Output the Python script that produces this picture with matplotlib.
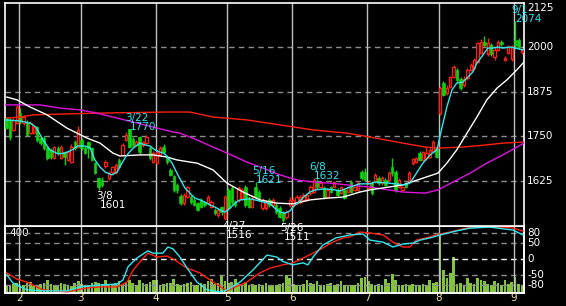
import numpy as np
import matplotlib
matplotlib.use("Agg")
import matplotlib.pyplot as plt
from matplotlib.transforms import blended_transform_factory, offset_copy

# daily candles (open, high, low, close), one row per trading day
ohlc = [
    (1801, 1805, 1770, 1773), (1796, 1800, 1740, 1748), (1768, 1800, 1765, 1796), (1787, 1838, 1785, 1832),
    (1815, 1830, 1785, 1790), (1787, 1810, 1782, 1804), (1790, 1795, 1750, 1754), (1760, 1792, 1757, 1787),
    (1760, 1782, 1757, 1776), (1776, 1780, 1735, 1740), (1745, 1750, 1725, 1731), (1745, 1750, 1712, 1717),
    (1717, 1722, 1685, 1689), (1712, 1717, 1687, 1692), (1689, 1724, 1686, 1720), (1717, 1722, 1697, 1703),
    (1689, 1725, 1686, 1720), (1706, 1710, 1670, 1692), (1684, 1710, 1680, 1706), (1678, 1728, 1675, 1720),
    (1734, 1740, 1712, 1717), (1720, 1780, 1717, 1768), (1740, 1745, 1712, 1717), (1717, 1722, 1700, 1703),
    (1734, 1738, 1689, 1717), (1717, 1720, 1680, 1684), (1675, 1678, 1644, 1647), (1633, 1636, 1601, 1608),
    (1628, 1635, 1608, 1614), (1667, 1684, 1662, 1678), (1633, 1652, 1628, 1647), (1650, 1668, 1645, 1664),
    (1650, 1675, 1645, 1670), (1684, 1690, 1660, 1664), (1698, 1730, 1695, 1726), (1740, 1762, 1736, 1754),
    (1770, 1770, 1716, 1720), (1742, 1748, 1720, 1726), (1726, 1740, 1722, 1734), (1748, 1752, 1700, 1706),
    (1726, 1738, 1720, 1734), (1731, 1755, 1728, 1748), (1717, 1722, 1685, 1689), (1678, 1708, 1675, 1703),
    (1675, 1712, 1672, 1706), (1698, 1722, 1695, 1717), (1720, 1728, 1700, 1706), (1692, 1698, 1672, 1678),
    (1656, 1660, 1638, 1642), (1639, 1642, 1595, 1600), (1614, 1618, 1592, 1600), (1583, 1588, 1558, 1563),
    (1563, 1590, 1558, 1586), (1580, 1612, 1576, 1608), (1580, 1585, 1560, 1566), (1572, 1576, 1555, 1558),
    (1563, 1567, 1540, 1544), (1572, 1578, 1548, 1552), (1566, 1570, 1552, 1558), (1563, 1586, 1558, 1580),
    (1552, 1572, 1548, 1566), (1544, 1550, 1530, 1535), (1530, 1548, 1525, 1544), (1552, 1556, 1530, 1538),
    (1522, 1585, 1516, 1580), (1600, 1605, 1545, 1550), (1605, 1612, 1560, 1566), (1566, 1572, 1552, 1558),
    (1572, 1610, 1566, 1605), (1578, 1605, 1572, 1600), (1608, 1614, 1552, 1558), (1578, 1583, 1548, 1552),
    (1552, 1586, 1548, 1578), (1608, 1621, 1575, 1580), (1594, 1600, 1570, 1578), (1550, 1578, 1545, 1572),
    (1550, 1572, 1545, 1566), (1572, 1578, 1552, 1558), (1558, 1578, 1552, 1572), (1558, 1563, 1533, 1538),
    (1550, 1555, 1520, 1524), (1535, 1540, 1511, 1516), (1524, 1545, 1518, 1538), (1558, 1580, 1552, 1572),
    (1558, 1578, 1552, 1572), (1563, 1586, 1558, 1580), (1566, 1585, 1560, 1580), (1572, 1592, 1568, 1586),
    (1574, 1590, 1570, 1586), (1591, 1614, 1586, 1608), (1594, 1632, 1590, 1628), (1625, 1630, 1603, 1608),
    (1608, 1624, 1604, 1619), (1605, 1610, 1575, 1580), (1580, 1605, 1576, 1600), (1608, 1612, 1590, 1594),
    (1608, 1626, 1604, 1622), (1600, 1604, 1582, 1586), (1591, 1612, 1588, 1608), (1600, 1604, 1574, 1578),
    (1594, 1612, 1590, 1608), (1622, 1628, 1590, 1594), (1600, 1612, 1596, 1608), (1600, 1624, 1596, 1619),
    (1650, 1656, 1628, 1633), (1650, 1660, 1624, 1628), (1605, 1624, 1600, 1619), (1619, 1624, 1586, 1591),
    (1622, 1646, 1618, 1642), (1633, 1638, 1615, 1619), (1619, 1638, 1615, 1633), (1628, 1632, 1610, 1614),
    (1628, 1652, 1624, 1647), (1664, 1690, 1640, 1647), (1650, 1655, 1595, 1600), (1608, 1632, 1604, 1628),
    (1600, 1612, 1596, 1608), (1619, 1623, 1604, 1608), (1628, 1652, 1622, 1647), (1675, 1690, 1670, 1686),
    (1678, 1693, 1674, 1689), (1703, 1708, 1680, 1684), (1684, 1710, 1680, 1706), (1689, 1720, 1685, 1703),
    (1692, 1716, 1688, 1712), (1710, 1740, 1706, 1734), (1717, 1722, 1688, 1692), (1815, 1890, 1810, 1885),
    (1900, 1905, 1862, 1866), (1872, 1895, 1865, 1886), (1888, 1920, 1885, 1916), (1916, 1950, 1912, 1944),
    (1936, 1940, 1903, 1908), (1910, 1915, 1880, 1885), (1894, 1918, 1888, 1910), (1913, 1942, 1908, 1936),
    (1936, 1955, 1932, 1950), (1941, 1970, 1936, 1964), (1958, 2015, 1955, 2011), (1983, 2022, 1980, 2014),
    (2014, 2030, 2000, 2005), (1980, 2025, 1975, 2011), (2005, 2010, 1975, 1980), (1972, 2000, 1965, 1992),
    (1992, 2020, 1988, 2014), (2014, 2020, 2003, 2008), (1964, 1975, 1960, 1970), (1983, 2005, 1980, 2000),
    (1966, 2005, 1962, 2000), (2019, 2074, 2000, 2005), (2019, 2025, 1995, 2000), (1986, 1998, 1980, 1992),
]

volume = [
    48, 42, 55, 62, 50, 45, 58, 66, 42, 50,
    55, 60, 78, 52, 48, 45, 60, 55, 50, 44,
    58, 72, 55, 48, 50, 62, 66, 58, 52, 75,
    48, 55, 60, 72, 55, 66, 78, 62, 50, 75,
    58, 55, 66, 80, 75, 48, 52, 60, 58, 84,
    52, 48, 55, 60, 66, 50, 45, 60, 55, 72,
    84, 55, 62, 108, 72, 58, 66, 84, 55, 50,
    60, 48, 55, 45, 52, 50, 60, 42, 48, 50,
    55, 62, 108, 90, 55, 45, 50, 52, 78, 60,
    55, 72, 48, 45, 52, 60, 50, 55, 72, 45,
    42, 50, 45, 60, 90, 96, 72, 55, 48, 52,
    45, 84, 60, 114, 78, 50, 45, 52, 48, 55,
    50, 45, 52, 48, 75, 60, 66, 360, 138, 90,
    120, 216, 55, 60, 50, 90, 62, 52, 90, 78,
    72, 55, 50, 72, 60, 48, 78, 55, 66, 96,
    55, 45,
]

# moving averages (day index, price)
ma_short_x = [-0.4, 4, 6.9, 8.6, 10.7, 12.7, 15.1, 17.1, 19.2, 20.9, 23, 24.5, 25.9, 27.4, 28.9, 30.9, 32.4,
              33.8, 35.3, 37.1, 39.1, 40.6, 42, 43.5, 45, 46.4, 48.5, 50.2, 52.3, 55.2, 56.7, 58.1, 59.6, 61.1,
              62.5, 64, 65.5, 66.9, 68.4, 71.3, 74.2, 77.2, 78.6, 80.1, 81.6, 83, 83.9, 85.9, 87.4, 88.9, 90.4,
              93.3, 96.2, 97.7, 100.6, 103.5, 106.5, 107.9, 110.9, 113.8, 116.7, 118.2, 120.3, 122, 124.1,
              126.1, 127.6, 129, 130.5, 131.9, 133.7, 135.8, 136.6, 137.8, 139.6, 141, 142.5, 143.9, 145.4,
              147.5, 148.9, 151.3]
ma_short_v = [1796, 1793, 1787, 1776, 1740, 1712, 1701, 1703, 1712, 1723, 1723, 1717, 1684, 1664, 1650, 1642,
              1650, 1675, 1698, 1717, 1731, 1726, 1723, 1712, 1706, 1701, 1675, 1642, 1605, 1577, 1572, 1566,
              1558, 1552, 1544, 1538, 1549, 1563, 1572, 1575, 1569, 1561, 1549, 1538, 1535, 1541, 1552, 1569,
              1583, 1594, 1600, 1603, 1600, 1597, 1608, 1617, 1617, 1622, 1620, 1617, 1614, 1619, 1650, 1675,
              1698, 1712, 1776, 1832, 1880, 1899, 1902, 1922, 1930, 1955, 1978, 1997, 1997, 2000, 1997, 2000,
              1997, 1992]

ma_mid_x = [0.1, 3.1, 6.9, 11.9, 17.7, 23.6, 27.4, 31.2, 33.2, 39.1, 42.9, 47, 49.9, 53.7, 55.8, 60.5, 64.6,
            69.3, 74.3, 79.2, 83.9, 88.9, 93.9, 98.6, 103.5, 106.5, 116.1, 122, 126.4, 129, 131.9, 134.9,
            137.8, 140.7, 143.7, 146.6, 149.5, 151.6]
ma_mid_v = [1860, 1852, 1832, 1810, 1773, 1745, 1731, 1703, 1695, 1698, 1698, 1692, 1684, 1678, 1675, 1656,
            1619, 1594, 1572, 1563, 1561, 1572, 1577, 1580, 1594, 1600, 1614, 1633, 1647, 1675, 1712, 1759,
            1804, 1852, 1885, 1908, 1936, 1958]

ma_long_x = [-0.4, 9.8, 15.7, 21.5, 26.5, 32.4, 37.1, 42.9, 48.8, 50.8, 55.8, 60.5, 64.6, 70.4, 75.1, 80.1,
             85.1, 89.8, 94.8, 99.7, 106.5, 116.1, 122.6, 126.4, 130.8, 135.8, 140.7, 145.4, 151.6]
ma_long_v = [1838, 1838, 1829, 1824, 1815, 1801, 1790, 1776, 1762, 1759, 1740, 1720, 1703, 1678, 1661, 1642,
             1628, 1622, 1619, 1614, 1608, 1594, 1591, 1600, 1622, 1647, 1675, 1698, 1731]

ma_xlong_x = [0.1, 4, 7.8, 14.8, 27.4, 47, 53.7, 60.5, 70.4, 80.1, 89.8, 99.7, 106.5, 116.1, 122.6, 126.4,
              133.7, 140.7, 145.4, 151.6]
ma_xlong_v = [1801, 1804, 1810, 1812, 1815, 1818, 1818, 1804, 1796, 1782, 1768, 1759, 1748, 1731, 1720, 1717,
              1720, 1726, 1731, 1734]

# oscillators in the lower panel
osc_a_x = [0.1, 1.9, 6, 10.7, 17.7, 21.5, 27.4, 32.4, 34.1, 35.6, 38.2, 41.4, 42.9, 45.8, 47.3, 48.8, 50.8,
           52.9, 55.8, 58.7, 62.5, 64.6, 68.4, 72.2, 76.3, 79.2, 81, 83.9, 86.9, 88.3, 89.8, 92.7, 96.5,
           100.6, 104.4, 106.5, 110.3, 113.2, 116.1, 119.1, 121.1, 124.1, 127, 131.7, 135.8, 141.6, 148.4,
           151.3]
osc_a_v = [-49, -74, -95, -98, -98, -86, -80, -77, -65, -24, 3, 25, 18, 18, 37, 31, 6, -28, -71, -95, -101,
           -95, -71, -34, 12, 6, -8, -18, -12, -18, 6, 43, 65, 74, 77, 58, 52, 37, 46, 49, 58, 65, 74, 86, 95,
           98, 89, 74]

osc_b_x = [0.1, 3.1, 6, 10.7, 17.7, 23.6, 27.4, 32.4, 35.3, 37.1, 39.1, 41.4, 44.1, 47, 48.8, 52.9, 56.7,
           60.5, 64.6, 66.3, 70.4, 74.2, 77.2, 81, 83.9, 86.9, 89.8, 92.7, 95.6, 98.6, 100.6, 103.5, 106.5,
           110.3, 113.2, 116.1, 118.2, 120, 122.9, 125.8, 129.9, 134.6, 139.6, 145.4, 148.4, 151.3]
osc_b_v = [-43, -62, -71, -95, -101, -89, -86, -86, -71, -34, -9, 18, 6, 9, 0, -28, -43, -71, -98, -89, -71,
           -43, -28, -18, -12, 3, 18, 34, 52, 65, 68, 83, 80, 74, 52, 37, 37, 58, 65, 74, 83, 95, 98, 98, 95,
           86]

month_names = ["2", "3", "4", "5", "6", "7", "8", "9"]
month_first = [4, 22, 44, 65, 84, 106, 127, 149]

price_ticks = [1625, 1750, 1875, 2000]
osc_ticks = [80, 50, 0, -50, -80]

# (date, price, day index, is_high)
marks = [("3/8", 1601, 27, False), ("3/22", 1770, 36, True), ("4/27", 1516, 64, False),
         ("5/16", 1621, 73, True), ("5/26", 1511, 81, False), ("6/8", 1632, 90, True),
         ("9/1", 2074, 149, True)]

RED = "#ff2010"
GREEN = "#10d010"
CYAN = "#30e8f0"
MAGENTA = "#e010e0"
GRID = "#8c8c8c"
VLINE = "#c0c0c0"
FS = 7.5

W, H = 566, 306
fig = plt.figure(figsize=(W / 100, H / 100), dpi=100, facecolor="black")
ax = fig.add_axes([5 / W, 1 - 226 / H, 519 / W, 223.3 / H], facecolor="black")
axv = fig.add_axes([5 / W, 1 - 293 / H, 519 / W, 67 / H], facecolor="black")
axo = axv.twinx()
ax.set_zorder(3)
axv.set_zorder(1)
axo.set_zorder(2)

o, h, l, c = (np.array(col, dtype=float) for col in zip(*ohlc))
x = np.arange(len(o))
up = c >= o

for a in (ax, axv, axo):
    a.set_xlim(-0.44, 151.6)
    a.set_xticks([])
    a.set_yticks([])
    for s in a.spines.values():
        s.set_color("white")
        s.set_linewidth(1.2)
ax.set_ylim(1499, 2124)
axv.set_ylim(0, 400)
axo.set_ylim(-104.6, 101.5)

# grid
for p in price_ticks:
    ax.axhline(p, color=GRID, lw=1, ls=(0, (4, 3)), zorder=1)
for v in osc_ticks:
    axo.axhline(v, color="white" if v == 0 else GRID, lw=1, ls=(0, (4, 3)), zorder=1)
for m in month_first:
    ax.axvline(m - 0.3, color=VLINE, lw=1, zorder=1)
    axo.axvline(m - 0.3, color=VLINE, lw=1, zorder=1)

# candles
ax.vlines(x, l, h, colors=np.where(up, RED, GREEN), lw=1, zorder=3)
ax.bar(x[up], np.maximum(c - o, 2)[up], bottom=o[up], width=0.7, facecolor="black",
       edgecolor=RED, lw=0.9, zorder=4)
ax.bar(x[~up], (o - c)[~up], bottom=c[~up], width=0.7, color=GREEN, edgecolor=GREEN,
       lw=0.5, zorder=4)

ax.plot(ma_xlong_x, ma_xlong_v, color=RED, lw=1, zorder=5)
ax.plot(ma_long_x, ma_long_v, color=MAGENTA, lw=1, zorder=5)
ax.plot(ma_mid_x, ma_mid_v, color="white", lw=1, zorder=5)
ax.plot(ma_short_x, ma_short_v, color=CYAN, lw=1, zorder=5)

# volume + oscillators
axv.bar(x, volume, width=0.78, color="#84c43c", zorder=2)
axo.plot(osc_b_x, osc_b_v, color=RED, lw=1, zorder=3)
axo.plot(osc_a_x, osc_a_v, color=CYAN, lw=1, zorder=3)

# labels
tr = blended_transform_factory(ax.transAxes, ax.transData)
for p in price_ticks:
    ax.text(1.006, p, str(p), transform=tr, color="white", fontsize=FS, ha="left", va="center")
ax.text(1.006, 2124, "2125", transform=tr, color="white", fontsize=FS, ha="left", va="top")
tro = blended_transform_factory(axo.transAxes, axo.transData)
for v in osc_ticks:
    axo.text(1.006, v, str(v), transform=tro, color="white", fontsize=FS, ha="left", va="center",
             clip_on=False)
axv.text(0.008, 0.97, "400", transform=axv.transAxes, color="white", fontsize=FS, ha="left", va="top")
trx = blended_transform_factory(axo.transData, axo.transAxes)
for m, name in zip(month_first, month_names):
    axo.text(m - 0.3, -0.075, name, transform=trx, color="#f0e8a0", fontsize=FS, ha="center",
             va="center", clip_on=False)

for date, price, i, is_high in marks:
    col = CYAN if is_high else "white"
    if is_high:
        t_price = offset_copy(ax.transData, fig=fig, x=0, y=-1, units="dots")
        t_date = offset_copy(ax.transData, fig=fig, x=-4, y=8, units="dots")
    else:
        t_date = offset_copy(ax.transData, fig=fig, x=-3, y=-9, units="dots")
        t_price = offset_copy(ax.transData, fig=fig, x=1, y=-18, units="dots")
    ax.text(i, price, date, transform=t_date, color=col, fontsize=FS, ha="left", va="baseline",
            clip_on=False, zorder=6)
    ax.text(i, price, str(price), transform=t_price, color=col, fontsize=FS, ha="left", va="baseline",
            clip_on=False, zorder=6)

fig.savefig("out.png", dpi=100, facecolor="black")
